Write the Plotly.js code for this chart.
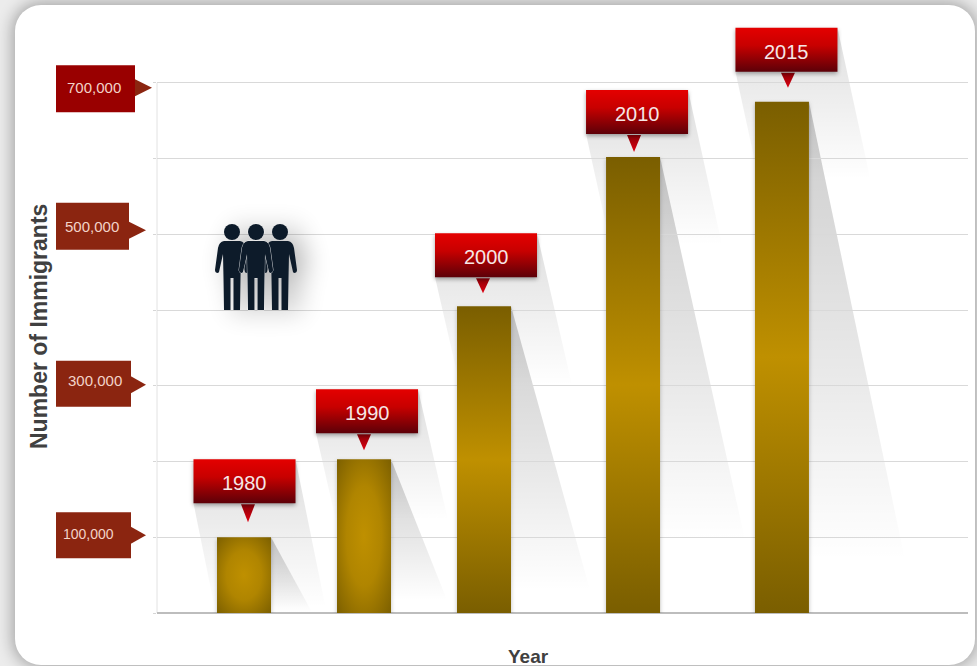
<!DOCTYPE html>
<html>
<head>
<meta charset="utf-8">
<script src="https://cdn.plot.ly/plotly-3.0.1.min.js"></script>
<style>
  html, body { margin: 0; padding: 0; width: 977px; height: 666px; overflow: hidden; background: #ececec; }
  #card { position: absolute; left: 15px; top: 5px; width: 960px; height: 660px; background: #fff;
          border-radius: 26px; box-shadow: 0 0 15px 3px rgba(0,0,0,.3); }
  #chart { position: absolute; left: 0; top: 0; width: 977px; height: 666px; }
</style>
</head>
<body>
<div id="card"></div>
<div id="chart"></div>
<script>
// Immigrant population by year
const years = ['1980', '1990', '2000', '2010', '2015'];
const immigrants = [100000, 203000, 405000, 602000, 675000];
const gridValues = [0, 100000, 200000, 300000, 400000, 500000, 600000, 700000];
const tagValues = [100000, 300000, 500000, 700000];
const tagLabels = ['100,000', '300,000', '500,000', '700,000'];

// Bars are not evenly spaced: the last two intervals are drawn wider
const slots = [1, 2, 3, 4.242, 5.483];

// Plot frame, in pixels
const W = 977, H = 666;
const M = { l: 157, r: 9, t: 20, b: 53 };
const plotW = W - M.l - M.r, plotH = H - M.t - M.b;
const SLOT_PX = 120, Y_MAX = 783000;
const X_MIN = 1 - 87 / SLOT_PX, X_MAX = X_MIN + plotW / SLOT_PX;
const ux = px => px / SLOT_PX;
const uy = px => px * Y_MAX / plotH;
const paperX = px => (px - M.l) / plotW;
const paperY = px => (H - M.b - px) / plotH;

// Callout placement relative to each bar, in pixels
const calloutGap = [34, 26, 29, 23, 30];
const calloutShift = [0.5, 3, 2, 4, 4.5];
const tipShift = [4, 0, -1, 1, 6];
const tipGap = [15, 9, 13, 5, 14];
const CALLOUT_W = 102, CALLOUT_H = 44;

// Long cast shadows, in pixels
const barShadowDx = [41, 56, 79, 85, 96];
const barShadowDy = [75, 141, 284, 383, 458];
const calloutShadowDx = [30, 30, 35, 34, 33];
const calloutShadowDy = [104, 87, 108, 111, 108];
const BAR_PX = 54;

// Axis tags, in pixels
const tagRight = [131, 131, 129, 135];
const tagTip = [146, 146, 146, 152];
const tagNudge = [2, 2, 8, -6];
const tagTipNudge = [2, 1, 4, -5];
const tagHeight = [46, 46, 47, 47];
const tagTextRight = [114, 122, 119, 121];
const tagTextNudge = [1, 3, 0, 1.5];
const tagFill = ['#8b2510', '#8b2510', '#8b2510', '#990000'];

const FONT = 'Liberation Sans, Arial, sans-serif';
const poly = pts => 'M' + pts.map(p => p[0] + ',' + p[1]).join(' L') + ' Z';

const shapes = [];
const paintJobs = [];
function addShape(def, gradient, shadow) {
  shapes.push(Object.assign({ line: { width: 0 }, fillcolor: '#888' }, def));
  if (gradient) paintJobs.push({ index: shapes.length - 1, gradient, shadow });
}

// Vertical rule stops at the top gridline
shapes.push({
  type: 'line', xref: 'paper', yref: 'y', layer: 'below',
  x0: 0, x1: 0, y0: 0, y1: gridValues[gridValues.length - 1],
  line: { color: '#e2e2e2', width: 1 }
});

// Shadows sit under the bars
years.forEach((_, i) => {
  const cx = slots[i], top = immigrants[i];
  const boxL = cx + ux(calloutShift[i] - CALLOUT_W / 2), boxR = boxL + ux(CALLOUT_W);
  const boxB = top + uy(calloutGap[i]), boxT = boxB + uy(CALLOUT_H);
  const slope = calloutShadowDx[i] / (CALLOUT_H + calloutShadowDy[i]);
  addShape({
    type: 'path', xref: 'x', yref: 'y', layer: 'below',
    path: poly([[boxL, boxB], [boxR, boxT],
      [boxR + ux(calloutShadowDx[i]), boxB - uy(calloutShadowDy[i])],
      [boxL + ux(slope * calloutShadowDy[i]), boxB - uy(calloutShadowDy[i])]])
  }, 'calloutShade');
  const right = cx + ux(BAR_PX / 2);
  addShape({
    type: 'path', xref: 'x', yref: 'y', layer: 'below',
    path: poly([[right, top],
      [right + ux(barShadowDx[i]), top - uy(barShadowDy[i])],
      [right, top - uy(barShadowDy[i])]])
  }, 'barShade');
});

// Year callouts above the bars
const annotations = [];
years.forEach((year, i) => {
  const cx = slots[i], top = immigrants[i];
  const boxC = cx + ux(calloutShift[i]);
  const boxB = top + uy(calloutGap[i]), boxT = boxB + uy(CALLOUT_H);
  const tipX = cx + ux(tipShift[i]);
  addShape({
    type: 'path', xref: 'x', yref: 'y', layer: 'above',
    path: poly([[tipX - ux(7), boxB - uy(1)], [tipX + ux(7), boxB - uy(1)], [tipX, top + uy(tipGap[i])]])
  }, 'calloutTip');
  addShape({
    type: 'rect', xref: 'x', yref: 'y', layer: 'above',
    x0: boxC - ux(CALLOUT_W / 2), x1: boxC + ux(CALLOUT_W / 2), y0: boxB, y1: boxT
  }, 'calloutBox', 'drop-shadow(0 2px 2px rgba(0,0,0,.35))');
  annotations.push({
    text: year, xref: 'x', yref: 'y', x: boxC, y: (boxB + boxT) / 2 - uy(2),
    showarrow: false, xanchor: 'center', yanchor: 'middle',
    font: { family: FONT, size: 20, color: '#f6e6e6' }
  });
});

// Value tags along the left side
tagValues.forEach((v, i) => {
  const half = uy(tagHeight[i] / 2);
  const midY = v + uy(tagNudge[i]);
  const tipY = v + uy(tagTipNudge[i]);
  shapes.push({
    type: 'path', xref: 'paper', yref: 'y', layer: 'below', fillcolor: '#8b2510', line: { width: 0 },
    path: poly([[paperX(tagRight[i] - 1), tipY + uy(9)], [paperX(tagTip[i]), tipY], [paperX(tagRight[i] - 1), tipY - uy(9)]])
  });
  shapes.push({
    type: 'rect', xref: 'paper', yref: 'y', layer: 'below', fillcolor: tagFill[i], line: { width: 0 },
    x0: paperX(56), x1: paperX(tagRight[i]), y0: midY - half, y1: midY + half
  });
  annotations.push({
    text: tagLabels[i], xref: 'paper', yref: 'y', x: paperX(tagTextRight[i] + 2), y: midY + uy(tagTextNudge[i]),
    showarrow: false, xanchor: 'right', yanchor: 'middle',
    font: { family: FONT, size: i === 0 ? 14 : 15, color: '#f3d3c8' }
  });
});

// Axis captions
annotations.push({
  text: '<b>Year</b>', xref: 'paper', yref: 'paper', x: paperX(528), y: paperY(656),
  showarrow: false, xanchor: 'center', yanchor: 'middle',
  font: { family: FONT, size: 19, color: '#404040' }
});
annotations.push({
  text: '<b>Number of Immigrants</b>', xref: 'paper', yref: 'paper', x: paperX(39), y: paperY(327),
  showarrow: false, xanchor: 'center', yanchor: 'middle', textangle: -90,
  font: { family: FONT, size: 23, color: '#404040' }
});

// Pictogram of three standing figures
function figure(c) {
  const x = d => c + d;
  return `<circle cx="${c}" cy="232" r="8"/>` +
    `<path d="M${x(-8)} 241 L${x(8)} 241 Q${x(13)} 242 ${x(14)} 248 L${x(17)} 270 Q${x(17)} 273 ${x(14)} 273 ` +
    `L${x(13)} 272 L${x(9)} 254 L${x(8.5)} 278 L${x(8)} 310 L${x(1.5)} 310 L${x(1.5)} 278 L${x(-1.5)} 278 ` +
    `L${x(-1.5)} 310 L${x(-8)} 310 L${x(-8.5)} 278 L${x(-9)} 254 L${x(-13)} 272 L${x(-14)} 273 ` +
    `Q${x(-17)} 273 ${x(-17)} 270 L${x(-14)} 248 Q${x(-13)} 242 ${x(-8)} 241 Z"/>`;
}
const people = figure(232) + figure(280);
const front = figure(256);
const iconSvg = `<svg xmlns="http://www.w3.org/2000/svg" width="170" height="150" viewBox="190 200 170 150">` +
  `<defs><filter id="soft" x="-50%" y="-50%" width="200%" height="200%"><feGaussianBlur stdDeviation="13"/></filter></defs>` +
  `<g filter="url(#soft)" opacity="0.3" fill="#000" transform="translate(10 3)">${people}${front}</g>` +
  `<g fill="#0d1b2a">${people}</g>` +
  `<g fill="#0d1b2a" stroke="#fff" stroke-width="0.8" style="paint-order:stroke">${front}</g></svg>`;

const data = [{
  type: 'bar',
  x: slots,
  y: immigrants,
  width: BAR_PX / SLOT_PX,
  text: years,
  textposition: 'none',
  hovertemplate: '%{text}: %{y:,}<extra></extra>',
  marker: { color: '#a88000', line: { width: 0 } }
}];

const layout = {
  width: W, height: H,
  margin: M,
  paper_bgcolor: 'rgba(0,0,0,0)',
  plot_bgcolor: 'rgba(0,0,0,0)',
  showlegend: false,
  font: { family: FONT, color: '#404040' },
  xaxis: {
    range: [X_MIN, X_MAX],
    showticklabels: false, ticks: '', showgrid: false, zeroline: false,
    showline: false
  },
  yaxis: {
    range: [0, Y_MAX],
    tickvals: gridValues,
    showticklabels: false,
    ticks: 'outside', ticklen: 3, tickwidth: 1, tickcolor: '#d6d6d6',
    showgrid: true, gridcolor: '#d9d9d9', gridwidth: 1, zeroline: true,
    zerolinecolor: '#bdbdbd', zerolinewidth: 1.5,
    showline: false
  },
  shapes,
  annotations,
  images: [{
    source: 'data:image/svg+xml;charset=utf-8,' + encodeURIComponent(iconSvg),
    xref: 'paper', yref: 'paper',
    x: paperX(190), y: paperY(200),
    sizex: 170 / plotW, sizey: 150 / plotH,
    xanchor: 'left', yanchor: 'top', sizing: 'stretch', layer: 'above'
  }]
};

// Gradient definitions applied to the drawn bars and shapes
const SVGNS = 'http://www.w3.org/2000/svg';
function makeGradient(defs, id, kind, stops, attrs) {
  if (document.getElementById(id)) return;
  const g = document.createElementNS(SVGNS, kind);
  g.setAttribute('id', id);
  Object.entries(attrs || {}).forEach(([k, v]) => g.setAttribute(k, v));
  stops.forEach(([offset, color, alpha]) => {
    const s = document.createElementNS(SVGNS, 'stop');
    s.setAttribute('offset', offset);
    s.setAttribute('stop-color', color);
    if (alpha !== undefined) s.setAttribute('stop-opacity', alpha);
    g.appendChild(s);
  });
  defs.appendChild(g);
}
const vertical = { x1: 0, y1: 0, x2: 0, y2: 1 };

function paint(gd) {
  const svg = gd.querySelector('.main-svg');
  const defs = svg.querySelector('defs');
  makeGradient(defs, 'barLinear', 'linearGradient',
    [[0, '#7a5e00'], [0.5, '#bf9000'], [1, '#7a5e00']], vertical);
  makeGradient(defs, 'barRadial', 'radialGradient',
    [[0, '#bf9000'], [0.45, '#b08500'], [1, '#7a5e00']], { cx: 0.5, cy: 0.5, r: 0.72 });
  makeGradient(defs, 'calloutBox', 'linearGradient',
    [[0, '#e40000'], [0.4, '#c80000'], [1, '#5c0008']], vertical);
  makeGradient(defs, 'calloutTip', 'linearGradient',
    [[0, '#8a0008'], [1, '#e00010']], vertical);
  makeGradient(defs, 'barShade', 'linearGradient',
    [[0, '#000', 0.2], [0.6, '#000', 0.085], [1, '#000', 0]], vertical);
  makeGradient(defs, 'calloutShade', 'linearGradient',
    [[0, '#000', 0.13], [1, '#000', 0]], vertical);

  gd.querySelectorAll('.bars .point path').forEach((p, i) => {
    p.style.fill = `url(#${i < 2 ? 'barRadial' : 'barLinear'})`;
    p.style.filter = 'drop-shadow(0 2px 2px rgba(0,0,0,.25))';
  });
  paintJobs.forEach(job => {
    const el = gd.querySelector(`.shapelayer path[data-index="${job.index}"]`);
    if (!el) return;
    el.style.fill = `url(#${job.gradient})`;
    el.style.fillOpacity = 1;
    if (job.shadow) el.style.filter = job.shadow;
  });
}

const chart = document.getElementById('chart');
Plotly.newPlot(chart, data, layout, { displayModeBar: false, responsive: false }).then(gd => {
  paint(gd);
  gd.on('plotly_afterplot', () => paint(gd));
});
</script>
</body>
</html>
